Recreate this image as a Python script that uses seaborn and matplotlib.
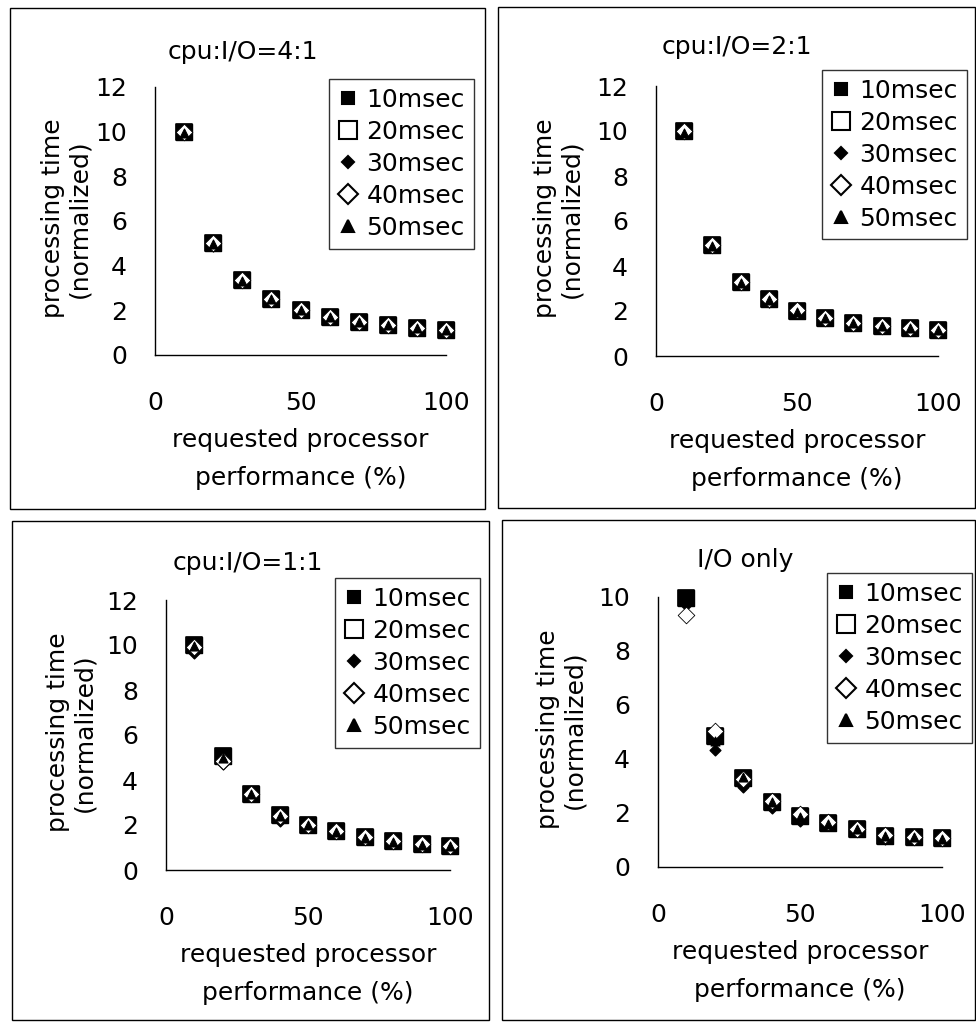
import numpy as np
import pandas as pd
import matplotlib
matplotlib.use("Agg")
import matplotlib.pyplot as plt
import seaborn as sns
from matplotlib.patches import Rectangle

sns.set_theme(style="white")
plt.rcParams['font.family'] = ['DejaVu Sans']
plt.rcParams['text.color'] = 'black'
plt.rcParams['axes.labelcolor'] = 'black'
plt.rcParams['legend.labelcolor'] = 'black'

# ---------------- data ----------------
perf = [10, 20, 30, 40, 50, 60, 70, 80, 90, 100]
series = ["10msec", "20msec", "30msec", "40msec", "50msec"]

titles = ["cpu:I/O=4:1", "cpu:I/O=2:1", "cpu:I/O=1:1", "I/O only"]
y_max = [12, 12, 12, 10]
y_ticks = [[0, 2, 4, 6, 8, 10, 12]] * 3 + [[0, 2, 4, 6, 8, 10]]
x_ticks = [0, 50, 100]

# cpu:I/O = 4:1
r41_10 = [10.0, 5.0, 3.35, 2.5, 2.0, 1.70, 1.48, 1.33, 1.21, 1.12]
r41_20 = [10.0, 5.0, 3.35, 2.5, 2.0, 1.70, 1.48, 1.33, 1.21, 1.12]
r41_30 = [9.9, 4.9, 3.30, 2.45, 1.95, 1.66, 1.45, 1.30, 1.18, 1.10]
r41_40 = [10.0, 5.0, 3.35, 2.5, 2.0, 1.70, 1.48, 1.33, 1.21, 1.12]
r41_50 = [9.95, 4.95, 3.30, 2.5, 2.0, 1.70, 1.48, 1.33, 1.21, 1.12]

# cpu:I/O = 2:1
r21_10 = [10.0, 4.95, 3.28, 2.52, 2.0, 1.68, 1.48, 1.34, 1.24, 1.15]
r21_20 = [10.0, 4.95, 3.28, 2.52, 2.0, 1.68, 1.48, 1.34, 1.24, 1.15]
r21_30 = [9.9, 4.9, 3.20, 2.40, 1.95, 1.62, 1.45, 1.32, 1.22, 1.13]
r21_40 = [10.0, 4.95, 3.30, 2.55, 2.05, 1.70, 1.48, 1.34, 1.24, 1.15]
r21_50 = [9.9, 4.9, 3.25, 2.50, 1.97, 1.67, 1.47, 1.33, 1.23, 1.14]

# cpu:I/O = 1:1
r11_10 = [10.0, 5.05, 3.40, 2.45, 2.02, 1.72, 1.45, 1.27, 1.14, 1.06]
r11_20 = [10.0, 5.05, 3.40, 2.45, 2.02, 1.72, 1.45, 1.27, 1.14, 1.06]
r11_30 = [9.65, 4.70, 3.35, 2.20, 1.90, 1.68, 1.38, 1.25, 1.12, 1.04]
r11_40 = [9.9, 4.85, 3.40, 2.40, 2.00, 1.72, 1.45, 1.27, 1.14, 1.06]
r11_50 = [9.95, 5.0, 3.38, 2.42, 1.98, 1.70, 1.42, 1.26, 1.13, 1.05]

# I/O only
io_10 = [9.95, 4.85, 3.30, 2.40, 1.90, 1.62, 1.42, 1.15, 1.12, 1.06]
io_20 = [9.95, 4.85, 3.30, 2.40, 1.90, 1.62, 1.42, 1.15, 1.12, 1.06]
io_30 = [9.7, 4.35, 2.95, 2.20, 1.70, 1.58, 1.32, 1.05, 1.10, 1.04]
io_40 = [9.35, 5.05, 3.25, 2.45, 1.95, 1.66, 1.42, 1.20, 1.12, 1.06]
io_50 = [9.95, 4.65, 3.32, 2.40, 1.85, 1.60, 1.40, 1.15, 1.12, 1.05]

panels = [
    [r41_10, r41_20, r41_30, r41_40, r41_50],
    [r21_10, r21_20, r21_30, r21_40, r21_50],
    [r11_10, r11_20, r11_30, r11_40, r11_50],
    [io_10, io_20, io_30, io_40, io_50],
]

# ---------------- layout ----------------
W, H = 976, 1023
fig = plt.figure(figsize=(W / 100, H / 100), dpi=100)


def fx(px):
    return px / W


def fy(py):
    return 1 - py / H


# (left, top, right, bottom) in pixels for each axes
ax_px = [(155, 87, 446, 355), (656, 86, 938, 356),
         (166, 600, 450, 870), (658, 597, 942, 867)]
box_px = [(10, 8, 485, 509), (498, 7, 975, 508),
          (12, 521, 489, 1020), (502, 520, 975, 1020)]
title_px = [(243, 52), (737, 47), (248, 563), (745, 560)]
legend_px = [(329, 79), (822, 70), (335, 578), (827, 573)]
ylabel_right_px = [91, 583, 96, 586]

# marker styles: (marker, size, face, edge, linewidth, zorder)
mstyle = [
    ("s", 130, "white", "black", 1.2, 3),
    ("s", 130, "black", "black", 1.0, 4),
    ("D", 30, "black", "black", 1.0, 5),
    ("D", 72, "white", "black", 0.6, 6),
    ("^", 42, "black", "black", 0.8, 7),
]
draw_order = [1, 0, 2, 3, 4]
leg_style = [
    ("s", 9, "black"),
    ("s", 13, "white"),
    ("D", 6, "black"),
    ("D", 10, "white"),
    ("^", 8, "black"),
]

for p in range(4):
    l, t, r, b = ax_px[p]
    ax = fig.add_axes([fx(l), fy(b), fx(r) - fx(l), fy(t) - fy(b)])
    for k in draw_order:
        mk, s, fc, ec, lw, z = mstyle[k]
        df = pd.DataFrame({"x": perf, "y": panels[p][k]})
        sns.scatterplot(data=df, x="x", y="y", ax=ax, marker=mk, s=s,
                        color=fc, edgecolor=ec, linewidth=lw, zorder=z,
                        legend=False, clip_on=False)
    ax.set_xlim(0, 100)
    ax.set_ylim(0, y_max[p])
    ax.set_xticks(x_ticks)
    ax.set_yticks(y_ticks[p])
    ax.set_facecolor("none")
    for sp in ["top", "right"]:
        ax.spines[sp].set_visible(False)
    for sp in ["left", "bottom"]:
        ax.spines[sp].set_color("black")
        ax.spines[sp].set_linewidth(1.0)
    ax.tick_params(axis="x", direction="in", length=9, width=1.0,
                   pad=26, labelsize=18, colors="black")
    ax.tick_params(axis="y", direction="in", length=9, width=1.0,
                   pad=20, labelsize=18, colors="black")
    ax.set_xlabel("requested processor\nperformance (%)", fontsize=18,
                  linespacing=1.75, color="black")
    ax.set_ylabel("processing time\n(normalized)", fontsize=18,
                  linespacing=1.12, color="black")
    width_px = r - l
    height_px = b - t
    ax.xaxis.set_label_coords(0.5, -73 / height_px)
    ax.yaxis.set_label_coords(-(l - ylabel_right_px[p]) / width_px, 0.51)

    # title
    tx, ty = title_px[p]
    fig.text(fx(tx), fy(ty), titles[p], fontsize=18, ha="center",
             va="center", color="black")

    # legend
    handles = [plt.Line2D([], [], linestyle="none", marker=m, markersize=ms,
                          markerfacecolor=fc, markeredgecolor="black",
                          markeredgewidth=1.5)
               for (m, ms, fc) in leg_style]
    lx, ly = legend_px[p]
    leg = fig.legend(handles, series, loc="upper left",
                     bbox_to_anchor=(fx(lx), fy(ly)), frameon=True,
                     fontsize=18, handlelength=0.8, handletextpad=0.35,
                     labelspacing=0.32, borderpad=0.35, borderaxespad=0,
                     fancybox=False, edgecolor="black", labelcolor="black")
    leg.get_frame().set_linewidth(1.0)

    # panel border
    bl, bt, br, bb = box_px[p]
    fig.patches.append(Rectangle((fx(bl), fy(bb)), fx(br) - fx(bl),
                                 fy(bt) - fy(bb), transform=fig.transFigure,
                                 fill=False, edgecolor="black", linewidth=1.0))

fig.savefig("out.png", dpi=100, facecolor="white")
